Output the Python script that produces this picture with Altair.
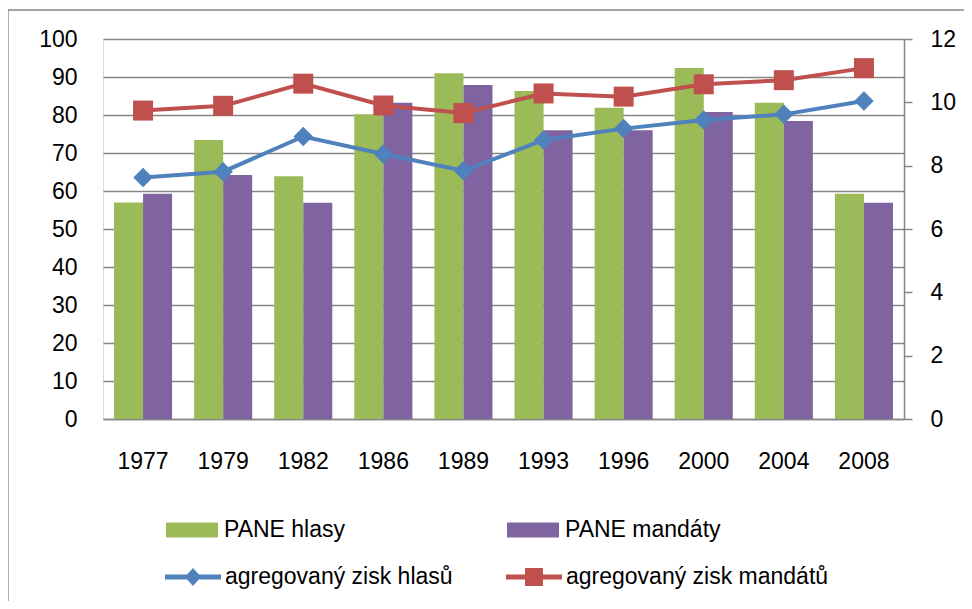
import altair as alt
import pandas as pd

years = ["1977", "1979", "1982", "1986", "1989", "1993", "1996", "2000", "2004", "2008"]
pane_hlasy = [57.0, 73.4, 63.9, 80.2, 91.0, 86.3, 81.9, 92.4, 83.2, 59.3]
pane_mandaty = [59.3, 64.2, 56.9, 83.2, 87.9, 76.0, 76.0, 80.8, 78.4, 56.9]
zisk_hlasu = [7.63, 7.81, 8.92, 8.37, 7.84, 8.81, 9.17, 9.44, 9.62, 10.04]
zisk_mandatu = [9.74, 9.89, 10.59, 9.90, 9.66, 10.28, 10.18, 10.57, 10.70, 11.08]

bar_names = ["PANE hlasy", "PANE mandáty"]
line_names = ["agregovaný zisk hlasů", "agregovaný zisk mandátů"]
bar_colors = ["#9BBB59", "#8064A2"]
line_colors = ["#4F81BD", "#C0504D"]

FONT = "Liberation Sans"
GRID = "#868686"

bars_df = pd.DataFrame(
    [{"year": y, "series": bar_names[0], "value": v} for y, v in zip(years, pane_hlasy)]
    + [{"year": y, "series": bar_names[1], "value": v} for y, v in zip(years, pane_mandaty)]
)
hl_df = pd.DataFrame({"year": years, "series": line_names[0], "value": zisk_hlasu})
md_df = pd.DataFrame({"year": years, "series": line_names[1], "value": zisk_mandatu})
lines_df = pd.concat([hl_df, md_df], ignore_index=True)

x_enc = alt.X(
    "year:N",
    sort=years,
    scale=alt.Scale(paddingInner=0.275, paddingOuter=0.1375),
    axis=alt.Axis(
        title=None, labelAngle=0, ticks=False, tickSize=0, grid=False,
        domainColor=GRID, domainWidth=1.5, labelPadding=31,
        labelFont=FONT, labelFontSize=23, labelColor="black",
    ),
)

y_left = alt.Y(
    "value:Q",
    scale=alt.Scale(domain=[0, 100], nice=False),
    axis=alt.Axis(
        title=None, values=list(range(0, 101, 10)), domain=False, ticks=False,
        tickSize=0, labelPadding=26, gridColor=GRID, gridWidth=1.3,
        labelFont=FONT, labelFontSize=23, labelColor="black",
    ),
)

y_right = alt.Y(
    "value:Q",
    scale=alt.Scale(domain=[0, 12], nice=False),
    axis=alt.Axis(
        title=None, orient="right", values=list(range(0, 13, 2)), grid=False,
        domainColor=GRID, domainWidth=1.5, tickColor=GRID, tickWidth=1.5,
        tickSize=8, labelPadding=18,
        labelFont=FONT, labelFontSize=23, labelColor="black",
    ),
)

bars = alt.Chart(bars_df).mark_bar().encode(
    x=x_enc,
    xOffset=alt.XOffset("series:N", sort=bar_names,
                        scale=alt.Scale(domain=bar_names, paddingInner=0, paddingOuter=0)),
    y=y_left,
    fill=alt.Fill(
        "series:N",
        scale=alt.Scale(domain=bar_names, range=bar_colors),
        legend=alt.Legend(
            title=None, orient="none", legendX=63, legendY=465,
            direction="horizontal", symbolType="M-1,-0.29H1V0.29H-1Z",
            symbolSize=2704, symbolStrokeWidth=0, labelFont=FONT,
            labelFontSize=23, labelColor="black", labelOffset=6,
            labelLimit=500, columnPadding=161, padding=0,
        ),
    ),
)

line_h = alt.Chart(hl_df).mark_line(color=line_colors[0], strokeWidth=4).encode(
    x=alt.X("year:N", sort=years), y=y_right)
line_m = alt.Chart(md_df).mark_line(color=line_colors[1], strokeWidth=4).encode(
    x=alt.X("year:N", sort=years), y=y_right)
pts_h = alt.Chart(hl_df).mark_point(
    filled=True, opacity=1, shape="diamond", size=380, color=line_colors[0]
).encode(x=alt.X("year:N", sort=years), y=y_right)
pts_m = alt.Chart(md_df).mark_point(
    filled=True, opacity=1, shape="square", size=400, color=line_colors[1]
).encode(x=alt.X("year:N", sort=years), y=y_right)

diamond_line = "M-1,-0.09H1V0.09H-1Z M0,-0.32L0.29,0L0,0.32L-0.29,0Z"
square_line = "M-1,-0.09H1V0.09H-1Z M-0.32,-0.32H0.32V0.32H-0.32Z"
line_legend = alt.Legend(
    title=None, orient="none", legendX=62, legendY=510,
    direction="horizontal", symbolSize=3136, symbolStrokeWidth=0,
    labelFont=FONT, labelFontSize=23, labelColor="black", labelOffset=4,
    labelLimit=500, columnPadding=53, padding=0,
)
legend_layer = alt.Chart(lines_df).transform_filter("datum.value < 0").mark_point(
    filled=True, opacity=1
).encode(
    x=alt.X("year:N", sort=years),
    y=y_right,
    color=alt.Color("series:N", scale=alt.Scale(domain=line_names, range=line_colors),
                    legend=line_legend),
    shape=alt.Shape("series:N", scale=alt.Scale(domain=line_names, range=[diamond_line, square_line]),
                    legend=line_legend),
)

border = alt.Chart(pd.DataFrame({"a": [0]})).mark_rect(
    filled=False, stroke=GRID, strokeWidth=1.3
).encode(x=alt.value(-95), x2=alt.value(900), y=alt.value(-29), y2=alt.value(600))

right = alt.layer(line_h, line_m, pts_h, pts_m, legend_layer)

chart = alt.layer(bars, right, border).resolve_scale(y="independent").properties(
    width=801, height=380,
    autosize=alt.AutoSizeParams(type="none"),
    padding={"left": 95, "top": 31, "right": 60, "bottom": 182},
).configure_view(stroke=None).configure(background="white")

chart.save("out.html", embed_options={"renderer": "svg", "actions": False})
